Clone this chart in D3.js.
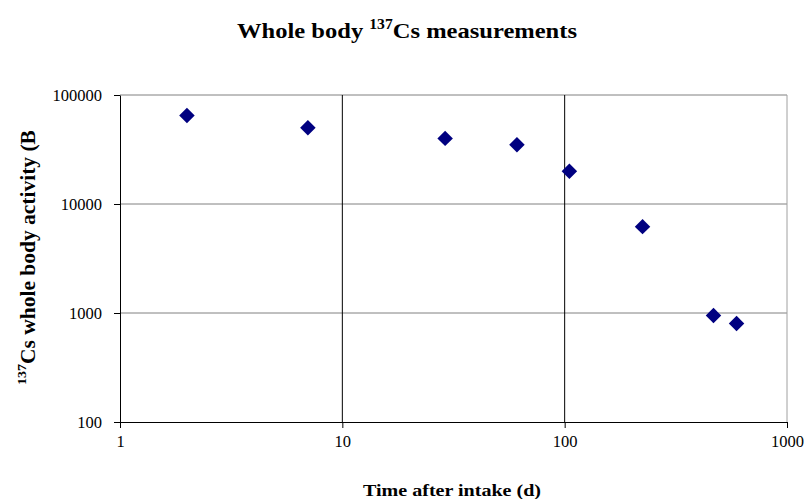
<!DOCTYPE html>
<html>
<head>
<meta charset="utf-8">
<script src="https://cdn.jsdelivr.net/npm/d3@7"></script>
<style>
  body { margin: 0; background: #fff; }
  svg { display: block; }
</style>
</head>
<body>
<div id="chart"></div>
<script>
'use strict';

// data
var days = [2, 7, 29, 61, 105, 224, 467, 593];
var activity = [65000, 50000, 40000, 35000, 20000, 6200, 950, 800];
var xTicks = [1, 10, 100, 1000];
var yTicks = [100, 1000, 10000, 100000];

var W = 809, H = 499;
var plotLeft = 120, plotRight = 787, plotTop = 95, plotBottom = 422;
var font = '"Liberation Serif", "Times New Roman", serif';

var svg = d3.select('#chart').append('svg').attr('width', W).attr('height', H);

var x = d3.scaleLog().domain([1, 1000]).range([plotLeft, plotRight]);
var y = d3.scaleLog().domain([100, 100000]).range([plotBottom, plotTop]);

// horizontal gridlines (grey)
svg.append('g').selectAll('line')
    .data(yTicks.slice(1)).enter()
    .append('line')
    .attr('x1', plotLeft).attr('x2', plotRight)
    .attr('y1', function(d) { return y(d); }).attr('y2', function(d) { return y(d); })
    .style('stroke', '#808080').style('stroke-width', 1);

// right border grey
svg.append('line')
    .attr('x1', plotRight).attr('x2', plotRight).attr('y1', plotTop).attr('y2', plotBottom)
    .style('stroke', '#a0a0a0').style('stroke-width', 1);

// vertical gridlines (black)
svg.append('g').selectAll('line')
    .data([10, 100]).enter()
    .append('line')
    .attr('x1', function(d) { return x(d); }).attr('x2', function(d) { return x(d); })
    .attr('y1', plotTop).attr('y2', plotBottom)
    .style('stroke', '#000').style('stroke-width', 1);

// axes
var yAxis = d3.axisLeft(y).tickValues(yTicks).tickFormat(d3.format('d')).tickSizeInner(6).tickSizeOuter(0).tickPadding(12);
var xAxis = d3.axisBottom(x).tickValues(xTicks).tickFormat(d3.format('d')).tickSizeInner(6).tickSizeOuter(0).tickPadding(7);

var gy = svg.append('g').attr('transform', 'translate(' + plotLeft + ',0)').call(yAxis);
var gx = svg.append('g').attr('transform', 'translate(0,' + plotBottom + ')').call(xAxis);

[gx, gy].forEach(function(g) {
    g.selectAll('path, line').style('stroke', '#000').style('stroke-width', 1);
    g.selectAll('text').style('font-family', font).style('font-size', '16.5px').style('fill', '#000');
});
gy.selectAll('text').attr('dy', '0.35em');

// points as diamonds
svg.append('g').selectAll('path')
    .data(days.map(function(d, i) { return [d, activity[i]]; })).enter()
    .append('path')
    .attr('d', d3.symbol().type(d3.symbolSquare).size(120))
    .attr('transform', function(d) { return 'translate(' + x(d[0]) + ',' + y(d[1]) + ') rotate(45)'; })
    .style('fill', '#000080');

// title
var title = svg.append('text')
    .attr('x', 237).attr('y', 38)
    .attr('textLength', 340).attr('lengthAdjust', 'spacingAndGlyphs')
    .style('font-family', font).style('font-weight', 'bold').style('font-size', '22px');
title.append('tspan').text('Whole body ');
title.append('tspan').text('137').attr('dy', '-9').style('font-size', '14px');
title.append('tspan').text('Cs measurements').attr('dy', '9');

// x title
svg.append('text')
    .attr('x', 363).attr('y', 496)
    .attr('textLength', 178).attr('lengthAdjust', 'spacingAndGlyphs')
    .style('font-family', font).style('font-weight', 'bold').style('font-size', '17px')
    .text('Time after intake (d)');

// y title, clipped at the top as in the original
svg.append('clipPath').attr('id', 'yclip')
    .append('rect').attr('x', 0).attr('y', 131).attr('width', 60).attr('height', 300);

var ytitle = svg.append('g').attr('clip-path', 'url(#yclip)')
    .append('text')
    .attr('transform', 'translate(35,385) rotate(-90) scale(1.075,1)')
    .attr('text-anchor', 'start')
    .style('font-family', font).style('font-weight', 'bold').style('font-size', '20px');
ytitle.append('tspan').text('137').attr('dy', '-9').style('font-size', '13px');
ytitle.append('tspan').text('Cs whole body activity (Bq)').attr('dy', '9');
</script>
</body>
</html>
